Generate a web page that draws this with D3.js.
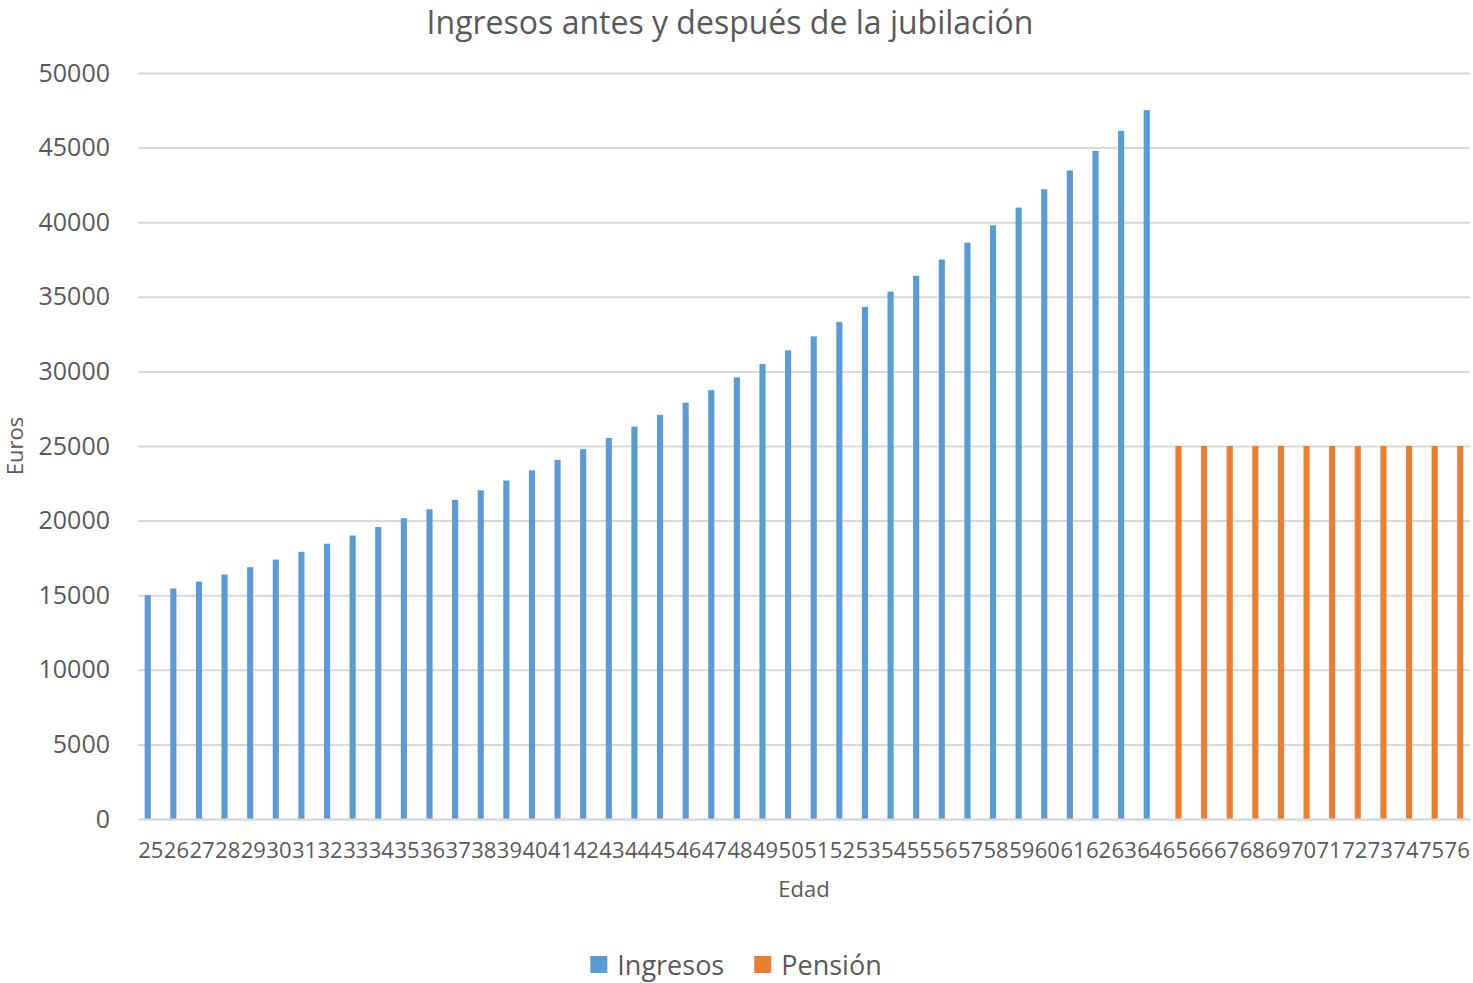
<!DOCTYPE html>
<html>
<head>
<meta charset="utf-8">
<script src="https://cdn.jsdelivr.net/npm/d3@7"></script>
<style>
    body { margin: 0; background: #fff; }
    text { font-family: "Open Sans", sans-serif; fill: #595959; }
</style>
</head>
<body>
<div id="chart-area"></div>
<script>
const ages = [25, 26, 27, 28, 29, 30, 31, 32, 33, 34, 35, 36, 37, 38, 39, 40, 41, 42, 43, 44,
    45, 46, 47, 48, 49, 50, 51, 52, 53, 54, 55, 56, 57, 58, 59, 60, 61, 62, 63, 64,
    65, 66, 67, 68, 69, 70, 71, 72, 73, 74, 75, 76];

// ages 25..64
const ingresos = [15000, 15450, 15910, 16390, 16880, 17390, 17910, 18450, 19000, 19570,
    20160, 20760, 21390, 22030, 22690, 23370, 24070, 24790, 25540, 26300,
    27090, 27900, 28740, 29600, 30490, 31410, 32350, 33320, 34320, 35350,
    36410, 37500, 38630, 39790, 40980, 42210, 43470, 44780, 46120, 47510];

// ages 65..76
const pension = [25000, 25000, 25000, 25000, 25000, 25000, 25000, 25000, 25000, 25000, 25000, 25000];

const seriesNames = ["Ingresos", "Pensión"];
const seriesColors = ["#5B9BD5", "#ED7D31"];
const yTicks = [0, 5000, 10000, 15000, 20000, 25000, 30000, 35000, 40000, 45000, 50000];

const chartSize = { width: 1473, height: 983 };
const margin = { left: 138, right: 3, top: 73, bottom: 164 };
const width = chartSize.width - (margin.left + margin.right);
const height = chartSize.height - (margin.top + margin.bottom);

const rows = ages.map((age, i) => ({
    age: age,
    Ingresos: i < ingresos.length ? ingresos[i] : null,
    "Pensión": i >= ingresos.length ? pension[i - ingresos.length] : null
}));

const svg = d3.select("#chart-area")
    .append("svg")
    .attr("width", chartSize.width)
    .attr("height", chartSize.height);

svg.append("text")
    .text("Ingresos antes y después de la jubilación")
    .attr("x", 730)
    .attr("y", 34)
    .attr("text-anchor", "middle")
    .style("font-size", "32px");

const g = svg.append("g")
    .attr("transform", `translate(${margin.left}, ${margin.top})`);

const y = d3.scaleLinear().domain([0, 50000]).range([height, 0]);

const x0 = d3.scaleBand()
    .domain(ages)
    .range([0, width])
    .paddingInner(0.52)
    .paddingOuter(0.26);

const x1 = d3.scaleBand()
    .domain(seriesNames)
    .range([0, x0.bandwidth()]);

// grid + y labels
const yAxis = g.append("g")
    .call(d3.axisLeft(y).tickValues(yTicks).tickSize(-width).tickPadding(28).tickFormat(d3.format("d")));
yAxis.select(".domain").remove();
yAxis.selectAll("line").attr("stroke", "#D9D9D9").attr("stroke-width", 2);
yAxis.selectAll("text").style("font-size", "25px").attr("fill", "#595959");

// bars
const groups = g.selectAll(".age")
    .data(rows)
    .enter()
    .append("g")
    .attr("transform", d => `translate(${x0(d.age)}, 0)`);

groups.selectAll("rect")
    .data(d => seriesNames.filter(s => d[s] != null).map(s => ({ key: s, value: d[s] })))
    .enter()
    .append("rect")
    .attr("x", d => x1(d.key))
    .attr("width", x1.bandwidth())
    .attr("y", d => y(d.value))
    .attr("height", d => height - y(d.value))
    .attr("fill", d => seriesColors[seriesNames.indexOf(d.key)]);

// x axis
const xAxis = g.append("g")
    .attr("transform", `translate(0, ${height})`)
    .call(d3.axisBottom(x0).tickSize(0).tickPadding(23));
xAxis.select(".domain").attr("stroke", "#D9D9D9").attr("stroke-width", 2);
xAxis.selectAll("text").style("font-size", "22px").attr("fill", "#595959");

g.append("text")
    .text("Edad")
    .attr("x", width / 2)
    .attr("y", height + 78)
    .attr("text-anchor", "middle")
    .style("font-size", "22px");

svg.append("text")
    .text("Euros")
    .attr("transform", "rotate(-90)")
    .attr("x", -(margin.top + height / 2))
    .attr("y", 23)
    .attr("text-anchor", "middle")
    .style("font-size", "22px");

// legend
const legend = svg.append("g");
let lx = 0;
seriesNames.forEach((name, i) => {
    const item = legend.append("g").attr("transform", `translate(${lx}, 0)`);
    item.append("rect")
        .attr("x", 0)
        .attr("y", 956)
        .attr("width", 17)
        .attr("height", 17)
        .attr("fill", seriesColors[i]);
    const t = item.append("text")
        .text(name)
        .attr("x", 27)
        .attr("y", 975)
        .style("font-size", "27px");
    lx += 27 + t.node().getComputedTextLength() + 30;
});
const legendWidth = lx - 30;
legend.attr("transform", `translate(${736 - legendWidth / 2}, 0)`);
</script>
</body>
</html>
